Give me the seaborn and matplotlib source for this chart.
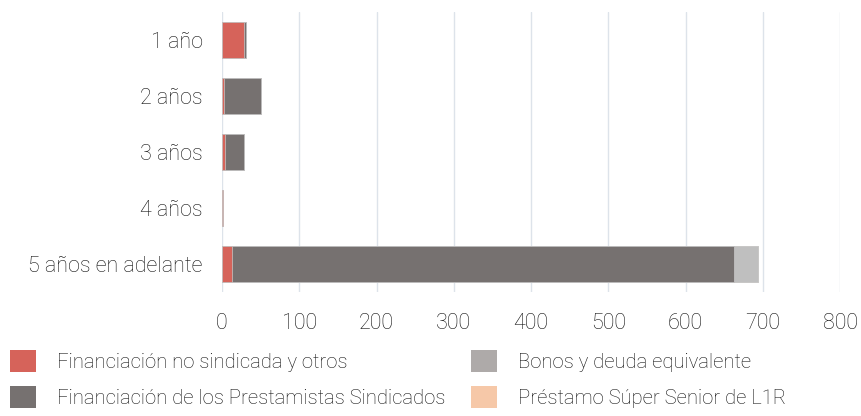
import numpy as np
import pandas as pd
import seaborn as sns
import matplotlib.pyplot as plt
from matplotlib.patches import Patch

# data
plazos = ["1 año", "2 años", "3 años", "4 años", "5 años en adelante"]
no_sindicada = [28, 3, 4, 1.5, 13]
sindicados = [3, 47.5, 25, 0, 650]
bonos = [0, 0, 0, 0, 31]
super_senior = [0, 0, 0, 0, 0]

series = ["Financiación no sindicada y otros",
          "Financiación de los Prestamistas Sindicados",
          "Bonos y deuda equivalente",
          "Préstamo Súper Senior de L1R"]
colores = ["#d6635a", "#767170", "#bfbfbf", "#f6c8a8"]
colores_leyenda = ["#d6635a", "#767170", "#aeaaa9", "#f6c8a8"]

sns.set_theme(style="white")
plt.rcParams['font.family'] = ['Roboto', 'DejaVu Sans']
plt.rcParams['font.weight'] = 'light'

vals = np.array([no_sindicada, sindicados, bonos, super_senior])
acum = vals.cumsum(axis=0)

fig = plt.figure(figsize=(8.61, 4.16), dpi=100)
ax = fig.add_axes([222 / 861, 1 - 292 / 416, 618 / 861, 280 / 416])

# stacked: draw cumulative totals from the top of the stack down
for i in range(len(series) - 1, -1, -1):
    df = pd.DataFrame({"plazo": plazos, "valor": acum[i]})
    sns.barplot(data=df, y="plazo", x="valor", color=colores[i], ax=ax,
                orient="h", width=0.64, saturation=1,
                edgecolor="#c8c8c8", linewidth=0.5)

ax.set_xlim(0, 800)
ax.set_xticks(range(0, 801, 100))
ax.set_xlabel("")
ax.set_ylabel("")
ax.grid(axis="x", color="#dde3ea", linewidth=1)
ax.set_axisbelow(True)
for s in ax.spines.values():
    s.set_visible(False)
ax.tick_params(axis="x", length=0, pad=15, labelsize=15.5, labelcolor="#111111")
ax.tick_params(axis="y", length=0, pad=14, labelsize=15.5, labelcolor="#111111")

handles = [Patch(facecolor=c, edgecolor="none") for c in colores_leyenda]
fig.legend(handles, series, loc="upper left", bbox_to_anchor=(10 / 861, 1 - 350 / 416),
           ncol=2, frameon=False, fontsize=14.6, handlelength=1.28, handleheight=1.28,
           handletextpad=1.03, columnspacing=1.28, labelspacing=0.69,
           borderpad=0, borderaxespad=0, labelcolor="#111111")

fig.savefig("out.png", dpi=100)
